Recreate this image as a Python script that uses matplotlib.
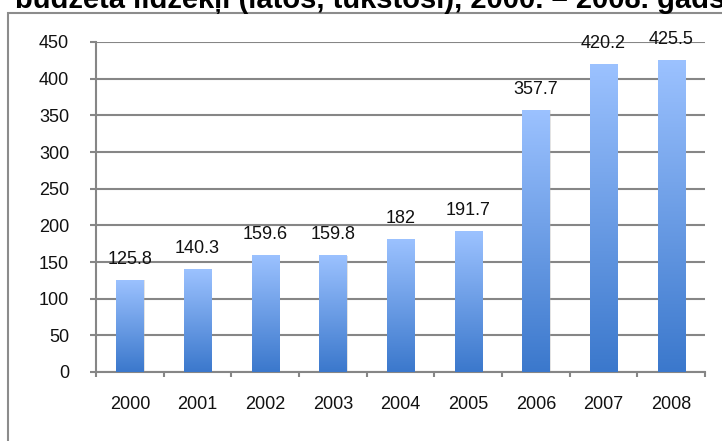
import numpy as np
import matplotlib.pyplot as plt
from matplotlib.colors import LinearSegmentedColormap
from matplotlib.patches import Rectangle

plt.rcParams['font.family'] = ['Liberation Sans', 'DejaVu Sans']

# Data
years = ['2000', '2001', '2002', '2003', '2004', '2005', '2006', '2007', '2008']
values = [125.8, 140.3, 159.6, 159.8, 182, 191.7, 357.7, 420.2, 425.5]
labels = ['125.8', '140.3', '159.6', '159.8', '182', '191.7', '357.7', '420.2', '425.5']
yticks = [0, 50, 100, 150, 200, 250, 300, 350, 400, 450]

title = 'budžeta līdzekļi (latos, tūkstoši), 2000. – 2008. gads'

grid_col = '#868686'
grad = LinearSegmentedColormap.from_list('bar', ['#3b78cc', '#9cc2ff'])

fig = plt.figure(figsize=(7.22, 4.41), dpi=100)
ax = fig.add_axes([96 / 722, 1 - 372 / 441, 609 / 722, 330 / 441])

# outer chart frame (top and left edges visible only)
fig.patches.append(Rectangle((8 / 722, -0.2), 1.2, 0.2 + (1 - 13 / 441),
                             transform=fig.transFigure, fill=False,
                             edgecolor='#8c8c8c', lw=1.5, zorder=0))

# title, cut off at the top of the image as in the source
fig.text(15 / 722, 1 - 7.5 / 441, title, fontsize=21, fontweight='bold',
         ha='left', va='baseline')

x = np.arange(len(years))
width = 0.4
bars = ax.bar(x, values, width=width, color='none', zorder=3)

gradient = np.linspace(0, 1, 256).reshape(-1, 1)
for b in bars:
    x0, y0 = b.get_x(), b.get_y()
    w, h = b.get_width(), b.get_height()
    # soft shadow
    ax.add_patch(Rectangle((x0 + 0.01, y0), w + 0.01, h - 1, facecolor='#b0b0b0',
                           alpha=0.35, lw=0, zorder=2))
    im = ax.imshow(gradient, cmap=grad, aspect='auto', origin='lower',
                   extent=[x0, x0 + w, y0, y0 + h], zorder=3)
    im.set_clip_path(b)

for xi, v, lab in zip(x, values, labels):
    ax.annotate(lab, (xi, v), xytext=(0, 11.5), textcoords='offset points',
                ha='center', va='baseline', fontsize=13, color='#111111', zorder=4)

ax.set_xlim(-0.5, len(years) - 0.5)
ax.set_ylim(0, 450)
ax.set_yticks(yticks)
ax.set_xticks(np.arange(len(years) + 1) - 0.5, minor=False)
ax.set_xticklabels([])
ax.set_xticks(x, minor=True)
ax.set_xticklabels(years, minor=True)

ax.yaxis.grid(True, color=grid_col, lw=1.5, zorder=0)
ax.set_axisbelow(True)

for s in ['top', 'right']:
    ax.spines[s].set_visible(False)
for s in ['left', 'bottom']:
    ax.spines[s].set_color(grid_col)
    ax.spines[s].set_linewidth(1.5)

ax.tick_params(axis='y', length=4.3, width=1.5, color=grid_col, pad=15,
               labelsize=13, labelcolor='#111111')
ax.tick_params(axis='x', which='major', length=3.6, width=1.5, color=grid_col)
ax.tick_params(axis='x', which='minor', length=0, pad=17.5, labelsize=13,
               labelcolor='#111111')

fig.savefig('out.png', dpi=100)
